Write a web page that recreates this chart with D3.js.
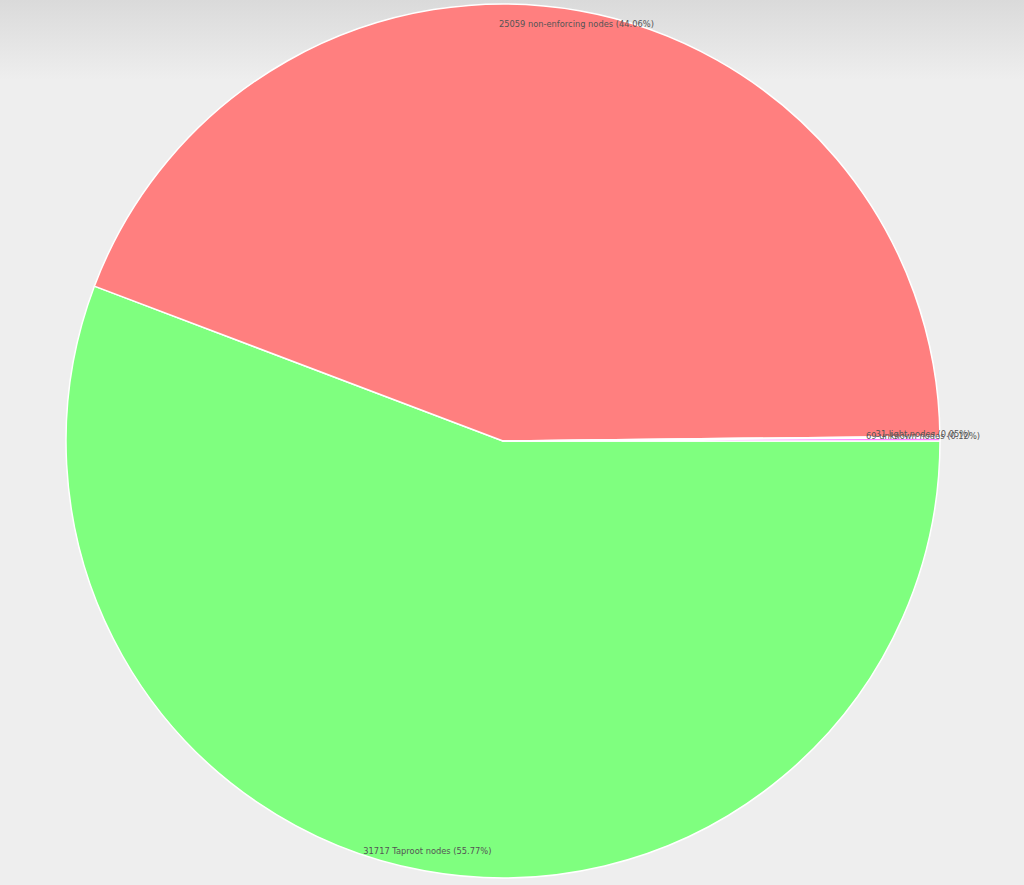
<!DOCTYPE html>
<html>
<head>
<meta charset="utf-8">
<script src="https://cdn.jsdelivr.net/npm/d3@7"></script>
<style>
  html, body { margin: 0; padding: 0; background: #eeeeee; }
  svg { display: block; }
</style>
</head>
<body>
<script>
const categories = ["Taproot nodes", "non-enforcing nodes", "light nodes", "unknown nodes"];
const values = [31717, 25059, 31, 69];
const colors = ["#7fff7f", "#ff7f7f", "#7f7fff", "#ff7fff"];

const W = 1024, H = 885;
const cx = 503, cy = 441, R = 437, labelR = 420;

const svg = d3.select("body").append("svg").attr("width", W).attr("height", H);
const defs = svg.append("defs");
const grad = defs.append("linearGradient").attr("id", "bg").attr("x1", 0).attr("y1", 0).attr("x2", 0).attr("y2", 1);
grad.append("stop").attr("offset", "0").attr("stop-color", "#dadada");
grad.append("stop").attr("offset", "1").attr("stop-color", "#eeeeee");
svg.append("rect").attr("width", W).attr("height", H).attr("fill", "#eeeeee");
svg.append("rect").attr("width", W).attr("height", 80).attr("fill", "url(#bg)");

const total = d3.sum(values);
const data = categories.map((c, i) => ({ name: c, value: values[i], color: colors[i] }));

// d3 angles: 0 at 12 o'clock, clockwise. Start at 3 o'clock.
const pie = d3.pie().value(d => d.value).sort(null)
  .startAngle(Math.PI / 2).endAngle(Math.PI / 2 + 2 * Math.PI);
const arcs = pie(data);
const arc = d3.arc().innerRadius(0).outerRadius(R);

const g = svg.append("g").attr("transform", `translate(${cx},${cy})`);
g.selectAll("path").data(arcs).join("path")
  .attr("d", arc)
  .attr("fill", d => d.data.color)
  .attr("stroke", "#ffffff")
  .attr("stroke-width", 1.5)
  .attr("stroke-linejoin", "round");

g.selectAll("text").data(arcs).join("text")
  .attr("x", d => Math.sin((d.startAngle + d.endAngle) / 2) * labelR)
  .attr("y", d => -Math.cos((d.startAngle + d.endAngle) / 2) * labelR - 2.5)
  .attr("text-anchor", "middle")
  .attr("dominant-baseline", "middle")
  .attr("font-family", "DejaVu Sans, Verdana, sans-serif")
  .attr("font-size", 8.3)
  .attr("fill", "#555555")
  .text(d => `${d.data.value} ${d.data.name} (${(d.data.value / total * 100).toFixed(2)}%)`);
</script>
</body>
</html>
